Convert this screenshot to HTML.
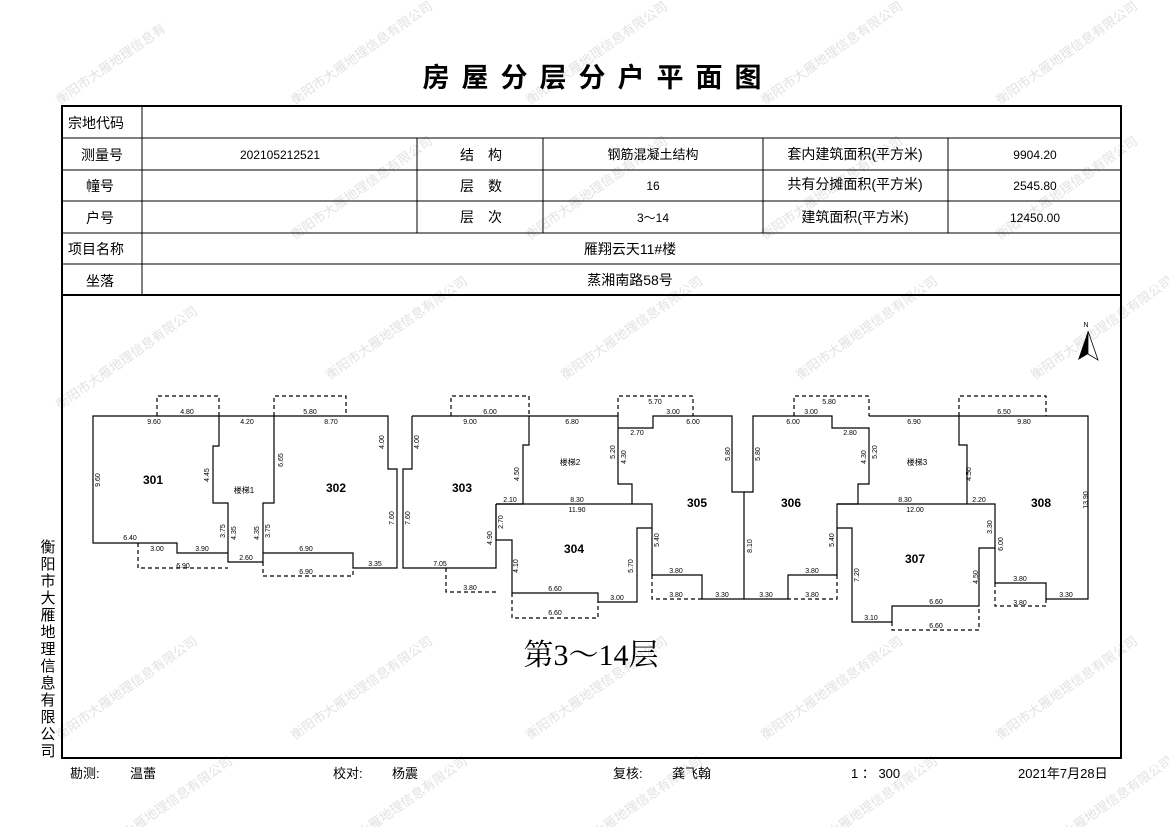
<!DOCTYPE html>
<html><head><meta charset="utf-8"><style>
html,body{margin:0;padding:0;background:#fff;}
svg{display:block;}
text{font-family:"Liberation Sans","Noto Sans CJK SC",sans-serif;}
.t{font-size:14px;}
.d{font-size:7px;fill:#000;}
.wm{font-size:13px;fill:#e2e2e2;}
</style></head><body>
<svg width="1169" height="827" viewBox="0 0 1169 827" xmlns="http://www.w3.org/2000/svg">
<g class="wm">
<text transform="translate(60,105) rotate(-35)">衡阳市大雁地理信息有</text>
<text transform="translate(295,105) rotate(-35)">衡阳市大雁地理信息有限公司</text>
<text transform="translate(530,105) rotate(-35)">衡阳市大雁地理信息有限公司</text>
<text transform="translate(765,105) rotate(-35)">衡阳市大雁地理信息有限公司</text>
<text transform="translate(1000,105) rotate(-35)">衡阳市大雁地理信息有限公司</text>
<text transform="translate(60,410) rotate(-35)">衡阳市大雁地理信息有限公司</text>
<text transform="translate(295,240) rotate(-35)">衡阳市大雁地理信息有限公司</text>
<text transform="translate(530,240) rotate(-35)">衡阳市大雁地理信息有限公司</text>
<text transform="translate(765,240) rotate(-35)">衡阳市大雁地理信息有限公司</text>
<text transform="translate(1000,240) rotate(-35)">衡阳市大雁地理信息有限公司</text>
<text transform="translate(330,380) rotate(-35)">衡阳市大雁地理信息有限公司</text>
<text transform="translate(565,380) rotate(-35)">衡阳市大雁地理信息有限公司</text>
<text transform="translate(800,380) rotate(-35)">衡阳市大雁地理信息有限公司</text>
<text transform="translate(1035,380) rotate(-35)">衡阳市大雁地理信息有限公司</text>
<text transform="translate(60,740) rotate(-35)">衡阳市大雁地理信息有限公司</text>
<text transform="translate(295,740) rotate(-35)">衡阳市大雁地理信息有限公司</text>
<text transform="translate(530,740) rotate(-35)">衡阳市大雁地理信息有限公司</text>
<text transform="translate(765,740) rotate(-35)">衡阳市大雁地理信息有限公司</text>
<text transform="translate(1000,740) rotate(-35)">衡阳市大雁地理信息有限公司</text>
<text transform="translate(95,860) rotate(-35)">衡阳市大雁地理信息有限公司</text>
<text transform="translate(330,860) rotate(-35)">衡阳市大雁地理信息有限公司</text>
<text transform="translate(565,860) rotate(-35)">衡阳市大雁地理信息有限公司</text>
<text transform="translate(800,860) rotate(-35)">衡阳市大雁地理信息有限公司</text>
<text transform="translate(1035,860) rotate(-35)">衡阳市大雁地理信息有限公司</text>
</g>

<text x="598" y="87" text-anchor="middle" font-size="27" font-weight="bold" letter-spacing="12">房屋分层分户平面图</text>

<rect x="62" y="106" width="1059" height="652" fill="none" stroke="#000" stroke-width="2"/>
<g stroke="#000" stroke-width="1">
<line x1="62" y1="138" x2="1121" y2="138"/>
<line x1="62" y1="170" x2="1121" y2="170"/>
<line x1="62" y1="201" x2="1121" y2="201"/>
<line x1="62" y1="233" x2="1121" y2="233"/>
<line x1="62" y1="264" x2="1121" y2="264"/>
<line x1="142" y1="106" x2="142" y2="295"/>
<line x1="417" y1="138" x2="417" y2="233"/>
<line x1="543" y1="138" x2="543" y2="233"/>
<line x1="763" y1="138" x2="763" y2="233"/>
<line x1="948" y1="138" x2="948" y2="233"/>
</g>
<line x1="62" y1="295" x2="1121" y2="295" stroke="#000" stroke-width="2"/>
<g class="t">
<text x="68" y="128">宗地代码</text>
<text x="102" y="160" text-anchor="middle">测量号</text>
<text x="100" y="191" text-anchor="middle">幢号</text>
<text x="100" y="223" text-anchor="middle">户号</text>
<text x="68" y="254">项目名称</text>
<text x="100" y="286" text-anchor="middle">坐落</text>
<text x="280" y="159" text-anchor="middle" font-size="12">202105212521</text>
<text x="481" y="160" text-anchor="middle">结　构</text>
<text x="481" y="191" text-anchor="middle">层　数</text>
<text x="481" y="222" text-anchor="middle">层　次</text>
<text x="653" y="159" text-anchor="middle" font-size="13">钢筋混凝土结构</text>
<text x="653" y="190" text-anchor="middle" font-size="12">16</text>
<text x="653" y="222" text-anchor="middle" font-size="12">3～14</text>
<text x="855" y="159" text-anchor="middle">套内建筑面积(平方米)</text>
<text x="855" y="189" text-anchor="middle">共有分摊面积(平方米)</text>
<text x="855" y="222" text-anchor="middle">建筑面积(平方米)</text>
<text x="1035" y="159" text-anchor="middle" font-size="12">9904.20</text>
<text x="1035" y="190" text-anchor="middle" font-size="12">2545.80</text>
<text x="1035" y="222" text-anchor="middle" font-size="12">12450.00</text>
<text x="630" y="254" text-anchor="middle">雁翔云天11#楼</text>
<text x="630" y="285" text-anchor="middle">蒸湘南路58号</text>
</g>

<g font-size="15" text-anchor="middle">
<text x="48" y="552">衡</text><text x="48" y="569">阳</text><text x="48" y="586">市</text><text x="48" y="603">大</text><text x="48" y="620">雁</text><text x="48" y="637">地</text><text x="48" y="654">理</text><text x="48" y="671">信</text><text x="48" y="688">息</text><text x="48" y="705">有</text><text x="48" y="722">限</text><text x="48" y="739">公</text><text x="48" y="756">司</text>
</g>

<g fill="none" stroke="#000" stroke-width="1.2">
<polyline points="157,416 93,416 93,543 177,543 177,553 228,553"/>
<polyline points="157,416 219,416 219,446 213,446 213,503 228,503 228,562 263,562 263,503 274,503 274,416 219,416"/>
<polyline points="263,553 353,553 353,568 397,568 397,469 388,469 388,416 274,416"/>
<polyline points="412,416 412,469 403,469 403,568 496,568 496,504"/>
<polyline points="412,416 529,416 529,445 523,445 523,504 496,504"/>
<polyline points="496,504 652,504 652,528 637,528 637,602 598,602 598,593 512,593 512,540 496,540 496,504"/>
<polyline points="529,416 618,416 618,484 632,484 632,504"/>
<polyline points="618,428 653,428 653,416 732,416 732,492 744,492 744,599 702,599 702,575 652,575 652,528"/>
<polyline points="744,599 788,599 788,575 837,575 837,504 858,504 858,484 869,484 869,428 832,428 832,416 753,416 753,492 744,492"/>
<polyline points="869,416 959,416 959,445 967,445 967,504"/>
<polyline points="837,504 995,504 995,548 979,548 979,606 892,606 892,622 852,622 852,528 837,528"/>
<polyline points="959,416 1088,416 1088,599 1046,599 1046,583 995,583 995,548"/>
</g>
<g fill="none" stroke="#000" stroke-width="1.2" stroke-dasharray="4,3">
<polyline points="157,416 157,396 219,396 219,416"/>
<polyline points="138,543 138,568 228,568"/>
<polyline points="274,416 274,396 346,396 346,416"/>
<polyline points="263,562 263,576 353,576 353,568"/>
<polyline points="451,416 451,396 529,396 529,416"/>
<polyline points="446,568 446,592 496,592"/>
<polyline points="512,593 512,618 598,618 598,602"/>
<polyline points="618,416 618,396 693,396 693,416"/>
<polyline points="652,575 652,599 702,599"/>
<polyline points="794,416 794,396 869,396 869,416"/>
<polyline points="837,575 837,599 788,599"/>
<polyline points="959,416 959,396 1046,396 1046,416"/>
<polyline points="892,622 892,630 979,630 979,606"/>
<polyline points="995,583 995,606 1046,606 1046,599"/>
</g>

<g font-size="12" font-weight="bold" text-anchor="middle">
<text x="153" y="484">301</text><text x="336" y="492">302</text><text x="462" y="492">303</text>
<text x="574" y="553">304</text><text x="697" y="507">305</text><text x="791" y="507">306</text>
<text x="915" y="563">307</text><text x="1041" y="507">308</text>
</g>
<g font-size="8" text-anchor="middle">
<text x="244" y="493">楼梯1</text><text x="570" y="465">楼梯2</text><text x="917" y="465">楼梯3</text>
</g>

<g class="d" text-anchor="middle">
<text x="187" y="414">4.80</text><text x="154" y="424">9.60</text><text x="247" y="424">4.20</text>
<text x="310" y="414">5.80</text><text x="331" y="424">8.70</text>
<text x="130" y="540">6.40</text><text x="157" y="551">3.00</text><text x="202" y="551">3.90</text>
<text x="183" y="568">6.90</text><text x="246" y="560">2.60</text>
<text x="306" y="551">6.90</text><text x="306" y="574">6.90</text><text x="375" y="566">3.35</text>
<text x="490" y="414">6.00</text><text x="470" y="424">9.00</text><text x="572" y="424">6.80</text>
<text x="510" y="502">2.10</text><text x="577" y="502">8.30</text><text x="577" y="512">11.90</text>
<text x="440" y="566">7.05</text><text x="470" y="590">3.80</text>
<text x="555" y="591">6.60</text><text x="555" y="615">6.60</text><text x="617" y="600">3.00</text>
<text x="655" y="404">5.70</text><text x="673" y="414">3.00</text><text x="693" y="424">6.00</text><text x="637" y="435">2.70</text>
<text x="676" y="573">3.80</text><text x="676" y="597">3.80</text><text x="722" y="597">3.30</text>
<text x="829" y="404">5.80</text><text x="811" y="414">3.00</text><text x="793" y="424">6.00</text><text x="850" y="435">2.80</text>
<text x="766" y="597">3.30</text><text x="812" y="573">3.80</text><text x="812" y="597">3.80</text>
<text x="914" y="424">6.90</text><text x="1004" y="414">6.50</text><text x="1024" y="424">9.80</text>
<text x="905" y="502">8.30</text><text x="979" y="502">2.20</text><text x="915" y="512">12.00</text>
<text x="936" y="604">6.60</text><text x="936" y="628">6.60</text><text x="871" y="620">3.10</text>
<text x="1020" y="581">3.80</text><text x="1020" y="605">3.80</text><text x="1066" y="597">3.30</text>
</g>
<g class="d" text-anchor="middle">
<text transform="translate(100,480) rotate(-90)">9.60</text>
<text transform="translate(209,475) rotate(-90)">4.45</text>
<text transform="translate(225,531) rotate(-90)">3.75</text>
<text transform="translate(236,533) rotate(-90)">4.35</text>
<text transform="translate(259,533) rotate(-90)">4.35</text>
<text transform="translate(270,531) rotate(-90)">3.75</text>
<text transform="translate(283,460) rotate(-90)">6.65</text>
<text transform="translate(384,442) rotate(-90)">4.00</text>
<text transform="translate(394,518) rotate(-90)">7.60</text>
<text transform="translate(410,518) rotate(-90)">7.60</text>
<text transform="translate(419,442) rotate(-90)">4.00</text>
<text transform="translate(519,474) rotate(-90)">4.50</text>
<text transform="translate(492,538) rotate(-90)">4.90</text>
<text transform="translate(503,522) rotate(-90)">2.70</text>
<text transform="translate(518,566) rotate(-90)">4.10</text>
<text transform="translate(633,566) rotate(-90)">5.70</text>
<text transform="translate(615,452) rotate(-90)">5.20</text>
<text transform="translate(626,457) rotate(-90)">4.30</text>
<text transform="translate(730,454) rotate(-90)">5.80</text>
<text transform="translate(659,540) rotate(-90)">5.40</text>
<text transform="translate(760,454) rotate(-90)">5.80</text>
<text transform="translate(752,546) rotate(-90)">8.10</text>
<text transform="translate(866,457) rotate(-90)">4.30</text>
<text transform="translate(877,452) rotate(-90)">5.20</text>
<text transform="translate(834,540) rotate(-90)">5.40</text>
<text transform="translate(859,575) rotate(-90)">7.20</text>
<text transform="translate(978,577) rotate(-90)">4.50</text>
<text transform="translate(992,527) rotate(-90)">3.30</text>
<text transform="translate(1003,544) rotate(-90)">6.00</text>
<text transform="translate(971,474) rotate(-90)">4.50</text>
<text transform="translate(1088,500) rotate(-90)">13.90</text>
</g>

<text x="1086" y="327" font-size="7" text-anchor="middle">N</text>
<polygon points="1088,331 1078,360 1088,354" fill="#000"/>
<polygon points="1088,331 1098,360 1088,354" fill="#fff" stroke="#000" stroke-width="0.8"/>

<text x="591" y="665" text-anchor="middle" style="font-size:30px;font-family:'Liberation Serif','Noto Serif CJK SC',serif">第3～14层</text>

<g font-size="13">
<text x="70" y="778">勘测:</text><text x="130" y="778">温蕾</text>
<text x="333" y="778">校对:</text><text x="392" y="778">杨震</text>
<text x="613" y="778">复核:</text><text x="672" y="778">龚飞翰</text>
<text x="851" y="778">1 ： 300</text>
<text x="1018" y="778">2021年7月28日</text>
</g>
</svg>
</body></html>
